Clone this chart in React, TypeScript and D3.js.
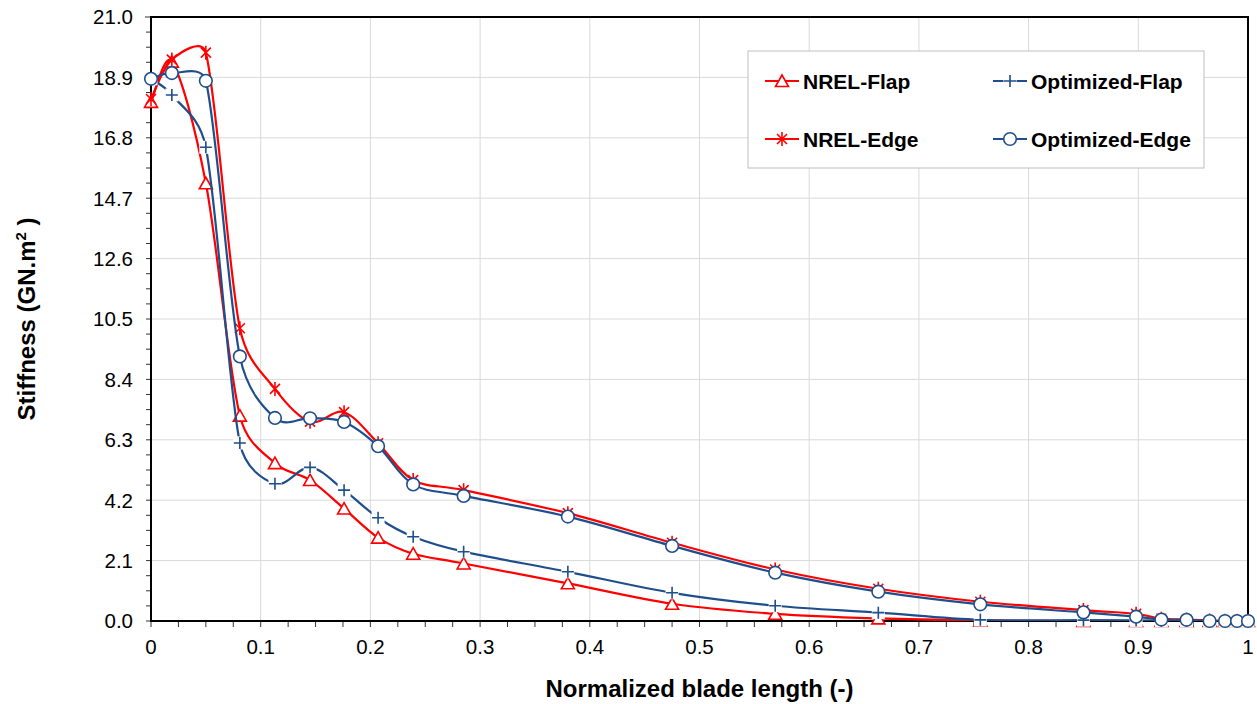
import React from "react";
import * as d3 from "d3";

// Spanwise stations (normalized blade length)
const stations = [0, 0.019, 0.05, 0.081, 0.113, 0.145, 0.176, 0.207, 0.239, 0.285, 0.38, 0.475, 0.569, 0.663, 0.756, 0.85, 0.898, 0.921, 0.944, 0.965, 0.979, 0.99, 1.0];

// Stiffness values in GN.m^2
const nrelFlap = [18.05, 19.45, 15.22, 7.14, 5.49, 4.9, 3.91, 2.9, 2.34, 2.0, 1.31, 0.6, 0.25, 0.09, 0.02, 0, 0, 0, 0, 0, 0, 0, 0];
const nrelEdge = [18.15, 19.52, 19.76, 10.18, 8.07, 6.93, 7.26, 6.18, 4.9, 4.55, 3.75, 2.72, 1.79, 1.12, 0.67, 0.38, 0.25, 0.08, 0.05, 0.02, 0, 0, 0];
const optFlap = [18.85, 18.29, 16.47, 6.19, 4.77, 5.34, 4.55, 3.59, 2.93, 2.41, 1.71, 0.98, 0.53, 0.29, 0.04, 0.03, 0.02, 0.01, 0.01, 0, 0, 0, 0];
const optEdge = [18.85, 19.05, 18.78, 9.2, 7.06, 7.05, 6.92, 6.08, 4.75, 4.35, 3.63, 2.61, 1.68, 1.02, 0.58, 0.3, 0.15, 0.05, 0.04, 0, 0, 0, 0];

const xTicks = [0, 0.1, 0.2, 0.3, 0.4, 0.5, 0.6, 0.7, 0.8, 0.9, 1];
const xTickLabels = ["0", "0.1", "0.2", "0.3", "0.4", "0.5", "0.6", "0.7", "0.8", "0.9", "1"];
const yTicks = [0, 2.1, 4.2, 6.3, 8.4, 10.5, 12.6, 14.7, 16.8, 18.9, 21.0];
const yTickLabels = ["0.0", "2.1", "4.2", "6.3", "8.4", "10.5", "12.6", "14.7", "16.8", "18.9", "21.0"];

const RED = "#FF0000";
const BLUE = "#1F4E8C";
const FONT = "'Liberation Sans', Arial, Helvetica, sans-serif";

const W = 1257;
const H = 704;
const plot = { left: 151, right: 1248, top: 17, bottom: 621 };

// Smooth Bezier through screen-space points. Tangents follow the neighbouring
// chord (Catmull-Rom), with the handle length shortened next to short segments.
function smoothPath(pts: [number, number][], t = 0.5): string {
  const p = d3.path();
  const n = pts.length;
  if (!n) return "";
  const before: [number, number][] = [];
  const after: [number, number][] = [];
  for (let i = 0; i < n; i++) {
    const [x0, y0] = pts[Math.max(0, i - 1)];
    const [x1, y1] = pts[i];
    const [x2, y2] = pts[Math.min(n - 1, i + 1)];
    const d1 = Math.hypot(x1 - x0, y1 - y0);
    const d2 = Math.hypot(x2 - x1, y2 - y1);
    const sum = d1 + d2 || 1;
    const fa = Math.min(1 / 6, (t * d1) / sum);
    const fb = Math.min(1 / 6, (t * d2) / sum);
    before.push([x1 - fa * (x2 - x0), y1 - fa * (y2 - y0)]);
    after.push([x1 + fb * (x2 - x0), y1 + fb * (y2 - y0)]);
  }
  p.moveTo(pts[0][0], pts[0][1]);
  for (let i = 1; i < n; i++) {
    p.bezierCurveTo(after[i - 1][0], after[i - 1][1], before[i][0], before[i][1], pts[i][0], pts[i][1]);
  }
  return p.toString();
}

type MarkerKind = "triangle" | "star" | "plus" | "circle";

function Marker({ kind, x, y, color }: { kind: MarkerKind; x: number; y: number; color: string }) {
  const s = 6;
  if (kind === "triangle") {
    const p = `M${x},${y - s} L${x + s + 0.5},${y + s - 0.5} L${x - s - 0.5},${y + s - 0.5} Z`;
    return <path d={p} fill="#fff" stroke={color} strokeWidth={1.6} />;
  }
  if (kind === "circle") {
    return <circle cx={x} cy={y} r={6.3} fill="#fff" stroke={color} strokeWidth={1.6} />;
  }
  if (kind === "plus") {
    return (
      <g>
        <rect x={x - 6.5} y={y - 6.5} width={13} height={13} fill="#fff" />
        <path d={`M${x - s},${y} L${x + s},${y} M${x},${y - s} L${x},${y + s}`} stroke={color} strokeWidth={1.6} fill="none" />
      </g>
    );
  }
  const a = 5;
  return (
    <path
      d={`M${x - a},${y - a} L${x + a},${y + a} M${x - a},${y + a} L${x + a},${y - a} M${x},${y - s - 1} L${x},${y + s + 1}`}
      stroke={color}
      strokeWidth={1.6}
      fill="none"
    />
  );
}

const series: { name: string; values: number[]; color: string; marker: MarkerKind }[] = [
  { name: "NREL-Flap", values: nrelFlap, color: RED, marker: "triangle" },
  { name: "NREL-Edge", values: nrelEdge, color: RED, marker: "star" },
  { name: "Optimized-Flap", values: optFlap, color: BLUE, marker: "plus" },
  { name: "Optimized-Edge", values: optEdge, color: BLUE, marker: "circle" },
];

export default function App() {
  const x = d3.scaleLinear().domain([0, 1]).range([plot.left, plot.right]);
  const y = d3.scaleLinear().domain([0, 21]).range([plot.bottom, plot.top]);

  const xMinor = d3.range(0, 40).map((i) => i * 0.025);
  const yMinor = d3.range(0, 40).map((i) => i * 0.525);

  const legendItems = [
    { s: series[0], lx: 765, ly: 81 },
    { s: series[2], lx: 993, ly: 81 },
    { s: series[1], lx: 765, ly: 139 },
    { s: series[3], lx: 993, ly: 139 },
  ];

  return (
    <svg width={W} height={H} style={{ position: "absolute", left: 0, top: 0, background: "#fff" }} fontFamily={FONT}>
      <defs>
        <clipPath id="plotClip">
          <rect x={plot.left} y={plot.top} width={plot.right - plot.left} height={plot.bottom - plot.top} />
        </clipPath>
      </defs>
      <rect x={0} y={0} width={W} height={H} fill="#fff" />

      {/* gridlines */}
      <g stroke="#D9D9D9" strokeWidth={1}>
        {xTicks.slice(1, -1).map((t) => (
          <line key={`gx${t}`} x1={x(t)} x2={x(t)} y1={plot.top} y2={plot.bottom} />
        ))}
        {yTicks.slice(1, -1).map((t) => (
          <line key={`gy${t}`} x1={plot.left} x2={plot.right} y1={y(t)} y2={y(t)} />
        ))}
      </g>

      {/* tick marks */}
      <g stroke="#333" strokeWidth={1}>
        {xMinor.map((t) => (
          <line key={`tx${t}`} x1={x(t)} x2={x(t)} y1={plot.bottom} y2={plot.bottom + 6} />
        ))}
        <line x1={x(1)} x2={x(1)} y1={plot.bottom} y2={plot.bottom + 6} />
        {yMinor.map((t) => (
          <line key={`ty${t}`} x1={plot.left - 5} x2={plot.left} y1={y(t)} y2={y(t)} />
        ))}
        <line x1={plot.left - 6} x2={plot.left} y1={y(21)} y2={y(21)} />
      </g>

      {/* plot frame */}
      <rect
        x={plot.left}
        y={plot.top}
        width={plot.right - plot.left}
        height={plot.bottom - plot.top}
        fill="none"
        stroke="#000"
        strokeWidth={2}
      />

      {/* series */}
      {series.map((s) => {
        const pts = stations.map((st, i) => [x(st), y(s.values[i])] as [number, number]);
        return (
          <g key={s.name}>
            <path d={smoothPath(pts)} fill="none" stroke={s.color} strokeWidth={2.2} clipPath="url(#plotClip)" />
            {pts.map((p, i) => (
              <Marker key={i} kind={s.marker} x={p[0]} y={p[1]} color={s.color} />
            ))}
          </g>
        );
      })}

      {/* tick labels */}
      <g fontSize={20.5} fill="#000">
        {xTicks.map((t, i) => (
          <text key={`lx${t}`} x={x(t)} y={654} textAnchor="middle">
            {xTickLabels[i]}
          </text>
        ))}
        {yTicks.map((t, i) => (
          <text key={`ly${t}`} x={133} y={y(t) + 7.3} textAnchor="end">
            {yTickLabels[i]}
          </text>
        ))}
      </g>

      {/* axis titles */}
      <text x={(plot.left + plot.right) / 2} y={697} textAnchor="middle" fontSize={24} fontWeight="bold">
        Normalized blade length (-)
      </text>
      <text
        transform={`translate(35, ${(plot.top + plot.bottom) / 2}) rotate(-90)`}
        textAnchor="middle"
        fontSize={24}
        fontWeight="bold"
      >
        Stiffness (GN.m<tspan dy={-9} fontSize={15}>2</tspan>
        <tspan dy={9}> )</tspan>
      </text>

      {/* legend */}
      <rect x={748} y={51} width={456} height={117} fill="#fff" stroke="#BFBFBF" strokeWidth={1} />
      {legendItems.map(({ s, lx, ly }) => (
        <g key={`lg${s.name}`}>
          <line x1={lx} x2={lx + 34} y1={ly} y2={ly} stroke={s.color} strokeWidth={2} />
          <Marker kind={s.marker} x={lx + 17} y={ly} color={s.color} />
          <text x={lx + 38} y={ly + 7.5} fontSize={21} fontWeight="bold" fill="#000">
            {s.name}
          </text>
        </g>
      ))}
    </svg>
  );
}
